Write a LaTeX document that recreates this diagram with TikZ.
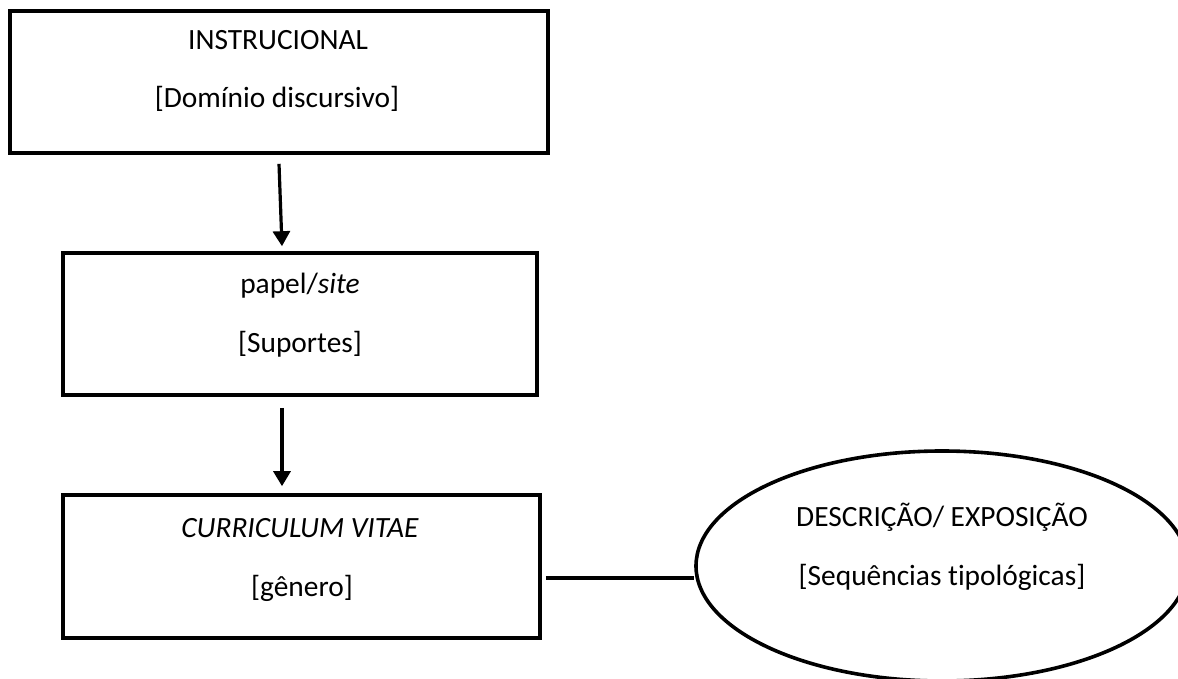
\documentclass[tikz,border=0pt]{standalone}
\usepackage{fontspec}
\setmainfont[Ligatures=NoCommon]{Carlito}
\usetikzlibrary{arrows.meta,shapes.geometric}
\begin{document}
\begin{tikzpicture}[x=0.5pt,y=-0.5pt,
  box/.style={draw,line width=1.8pt,rectangle,inner sep=0pt},
  oval/.style={draw,line width=1.8pt,ellipse,inner sep=0pt,minimum width=246pt,minimum height=115pt},
  txt/.style={anchor=base,inner sep=0pt,font=\fontsize{14.7}{17}\selectfont},
  arr/.style={line width=1.6pt,-{Triangle[length=7.5pt,width=8.5pt]}},
  conn/.style={line width=1.6pt}]
\useasboundingbox (0,0) rectangle (1178,679);
\clip (0,0) rectangle (1178,679);
\node[box,minimum width=269pt,minimum height=71pt] (b1) at (279,82) {};
\node[box,minimum width=237pt,minimum height=71pt] (b2) at (300,324) {};
\node[box,minimum width=238.5pt,minimum height=71.5pt] (b3) at (301.5,566.5) {};
\node[oval] (ell) at (942,566) {};
\node[txt] (t1a) at (278,50) {INSTRUCIONAL};
\node[txt] (t1b) at (277,108) {[Domínio discursivo]};
\node[txt] (t2a) at (300,293) {papel/\textit{site}};
\node[txt] (t2b) at (300,352) {[Suportes]};
\node[txt] (t3a) at (300,537) {\textit{CURRICULUM VITAE}};
\node[txt] (t3b) at (302,596) {[gênero]};
\node[txt] (t4a) at (942,526) {DESCRIÇÃO/ EXPOSIÇÃO};
\node[txt] (t4b) at (942,585) {[Sequências tipológicas]};
\draw[arr] ([yshift=-4.5pt]b1.south) -- ([xshift=-9pt,yshift=2.5pt]b2.north);
\draw[arr] ([xshift=-9pt,yshift=-5.5pt]b2.south) -- ([xshift=-9.75pt,yshift=3.5pt]b3.north);
\draw[conn] ([xshift=2pt,yshift=-5.75pt]b3.east) -- ([yshift=-6pt]ell.west);
\end{tikzpicture}
\end{document}
